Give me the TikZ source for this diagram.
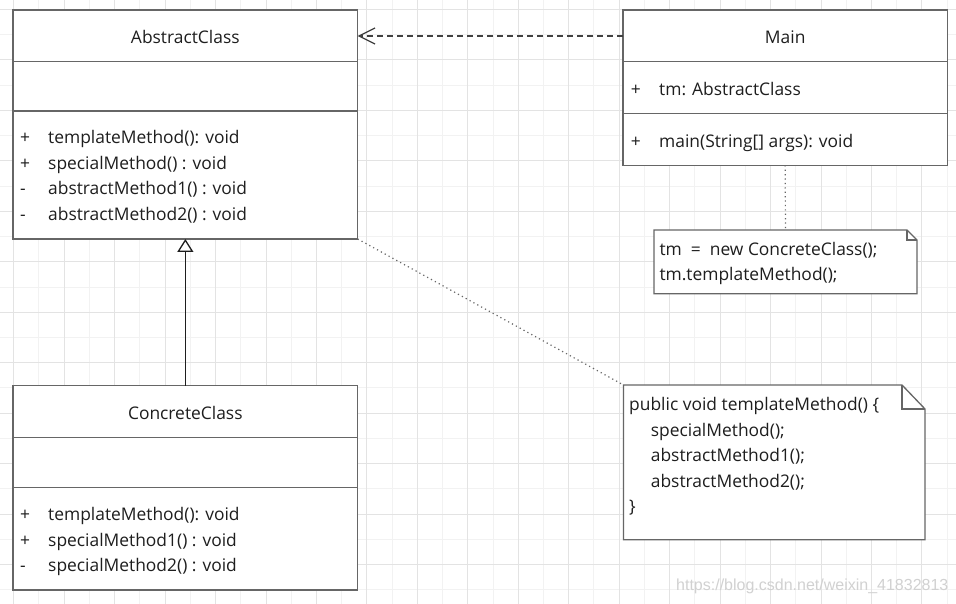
\documentclass[tikz,border=0pt]{standalone}
\usepackage{fontspec}
\setmainfont{Open Sans}
\newfontfamily\wmfont{Liberation Sans}
\usetikzlibrary{arrows.meta,calc}
\definecolor{gridminor}{HTML}{F2F2F2}
\definecolor{gridmajor}{HTML}{E3E3E3}
\definecolor{edge}{HTML}{666666}
\definecolor{ink}{HTML}{1E1E1E}
\begin{document}
\begin{tikzpicture}[x=1pt,y=-1pt,
  cls/.style={draw=edge, line width=1.3pt, fill=white, inner sep=0pt, outer sep=0pt, anchor=north west},
  notebox/.style={draw=none, inner sep=0pt, outer sep=0pt, anchor=north west},
  txt/.style={text=ink, font=\fontsize{17.4}{20}\selectfont, inner sep=0pt, anchor=base west},
  ttl/.style={text=ink, font=\fontsize{17.4}{20}\selectfont, inner sep=0pt, anchor=base},
  divider/.style={draw=edge, line width=1.3pt},
  noteline/.style={draw=edge, line width=1.3pt, fill=white, line join=miter},
  dotline/.style={draw=edge, line width=1.2pt, dash pattern=on 1.2pt off 3.2pt},
  depline/.style={draw=ink!85, line width=1.2pt, dash pattern=on 6pt off 4pt, -{Straight Barb[length=16pt,width=16pt]}},
  genline/.style={draw=ink, line width=1.3pt, -{Triangle[open,length=13pt,width=16pt,fill=white]}},
]
\fill[white] (0,0) rectangle (956,604);
\useasboundingbox (0,0) rectangle (956,604);
% grid
\foreach \i in {0,...,18} \draw[gridminor, line width=1pt] ({38.93+50.46*\i},0) -- ({38.93+50.46*\i},604);
\foreach \i in {0,...,11} \draw[gridminor, line width=1pt] (0,{34.73+50.46*\i}) -- (956,{34.73+50.46*\i});
\foreach \i in {0,...,18} \draw[gridmajor, line width=1pt] ({13.7+50.46*\i},0) -- ({13.7+50.46*\i},604);
\foreach \i in {0,...,11} \draw[gridmajor, line width=1pt] (0,{9.5+50.46*\i}) -- (956,{9.5+50.46*\i});

% AbstractClass
\node[cls, minimum width=344.7pt, minimum height=229pt] (abs) at (13,10) {};
\draw[divider] ($(abs.north west)+(0,51.5)$) -- ($(abs.north east)+(0,51.5)$);
\draw[divider] ($(abs.north west)+(0,101)$) -- ($(abs.north east)+(0,101)$);
\node[ttl] (absT) at (185.3,43.3) {AbstractClass};
\node[txt] (absV1) at (20,143.3) {+};
\node[txt] (absM1) at (48,143.3) {templateMethod(): void};
\node[txt] (absV2) at (20,169.3) {+};
\node[txt] (absM2) at (48,169.3) {specialMethod() : void};
\node[txt] (absV3) at (20,195) {-};
\node[txt] (absM3) at (48,195) {abstractMethod1() : void};
\node[txt] (absV4) at (20,220.7) {-};
\node[txt] (absM4) at (48,220.7) {abstractMethod2() : void};

% Main
\node[cls, minimum width=324.3pt, minimum height=155.3pt] (main) at (623,10) {};
\draw[divider] ($(main.north west)+(0,51.7)$) -- ($(main.north east)+(0,51.7)$);
\draw[divider] ($(main.north west)+(0,103.7)$) -- ($(main.north east)+(0,103.7)$);
\node[ttl] (mainT) at (785.2,43.3) {Main};
\node[txt] (mainV1) at (630.7,95.7) {+};
\node[txt] (mainA1) at (659,95.7) {tm: AbstractClass};
\node[txt] (mainV2) at (630.7,147.3) {+};
\node[txt] (mainM1) at (659,147.3) {main(String[] args): void};

% ConcreteClass
\node[cls, minimum width=344.7pt, minimum height=204.3pt] (conc) at (13,385.7) {};
\draw[divider] ($(conc.north west)+(0,52)$) -- ($(conc.north east)+(0,52)$);
\draw[divider] ($(conc.north west)+(0,101.8)$) -- ($(conc.north east)+(0,101.8)$);
\node[ttl] (concT) at (185.3,419.3) {ConcreteClass};
\node[txt] (concV1) at (20,520.7) {+};
\node[txt] (concM1) at (48,520.7) {templateMethod(): void};
\node[txt] (concV2) at (20,546) {+};
\node[txt] (concM2) at (48,546) {specialMethod1() : void};
\node[txt] (concV3) at (20,571.3) {-};
\node[txt] (concM3) at (48,571.3) {specialMethod2() : void};

% Note 1
\node[notebox, minimum width=263pt, minimum height=63.7pt] (note1) at (654,230) {};
\draw[noteline] (note1.north west) -- ($(note1.north east)+(-10,0)$) -- ($(note1.north east)+(0,10)$) -- (note1.south east) -- (note1.south west) -- cycle;
\draw[noteline, fill=none] ($(note1.north east)+(-10,0)$) -- ($(note1.north east)+(-10,10)$) -- ($(note1.north east)+(0,10)$);
\node[txt] (n1a) at (659.3,255) {tm\ \ = \ new ConcreteClass();};
\node[txt] (n1b) at (659.3,280) {tm.templateMethod();};

% Note 2
\node[notebox, minimum width=301.5pt, minimum height=154.7pt] (note2) at (623.5,385) {};
\draw[noteline] (note2.north west) -- ($(note2.north east)+(-23,0)$) -- ($(note2.north east)+(0,24)$) -- (note2.south east) -- (note2.south west) -- cycle;
\draw[noteline, fill=none] ($(note2.north east)+(-23,0)$) -- ($(note2.north east)+(-23,24)$) -- ($(note2.north east)+(0,24)$);
\node[txt] (n2a) at (629,410.7) {public void templateMethod() \{};
\node[txt] (n2b) at (650.7,436) {specialMethod();};
\node[txt] (n2c) at (650.7,461.7) {abstractMethod1();};
\node[txt] (n2d) at (650.7,487.3) {abstractMethod2();};
\node[txt] (n2e) at (629,512.5) {\}};

% connectors
\draw[depline] ($(main.north west)+(0,26)$) -- ($(abs.north east)+(0,26)$);
\draw[genline] (conc.north) -- (abs.south);
\draw[dotline] (main.south) -- (note1.north);
\draw[dotline] (abs.south east) -- (note2.north west);

% watermark
\node[text=black!18, font=\wmfont\fontsize{16}{18}\selectfont, inner sep=0pt, anchor=base west] (wm) at (676,590) {https://blog.csdn.net/weixin\_41832813};
\end{tikzpicture}
\end{document}
